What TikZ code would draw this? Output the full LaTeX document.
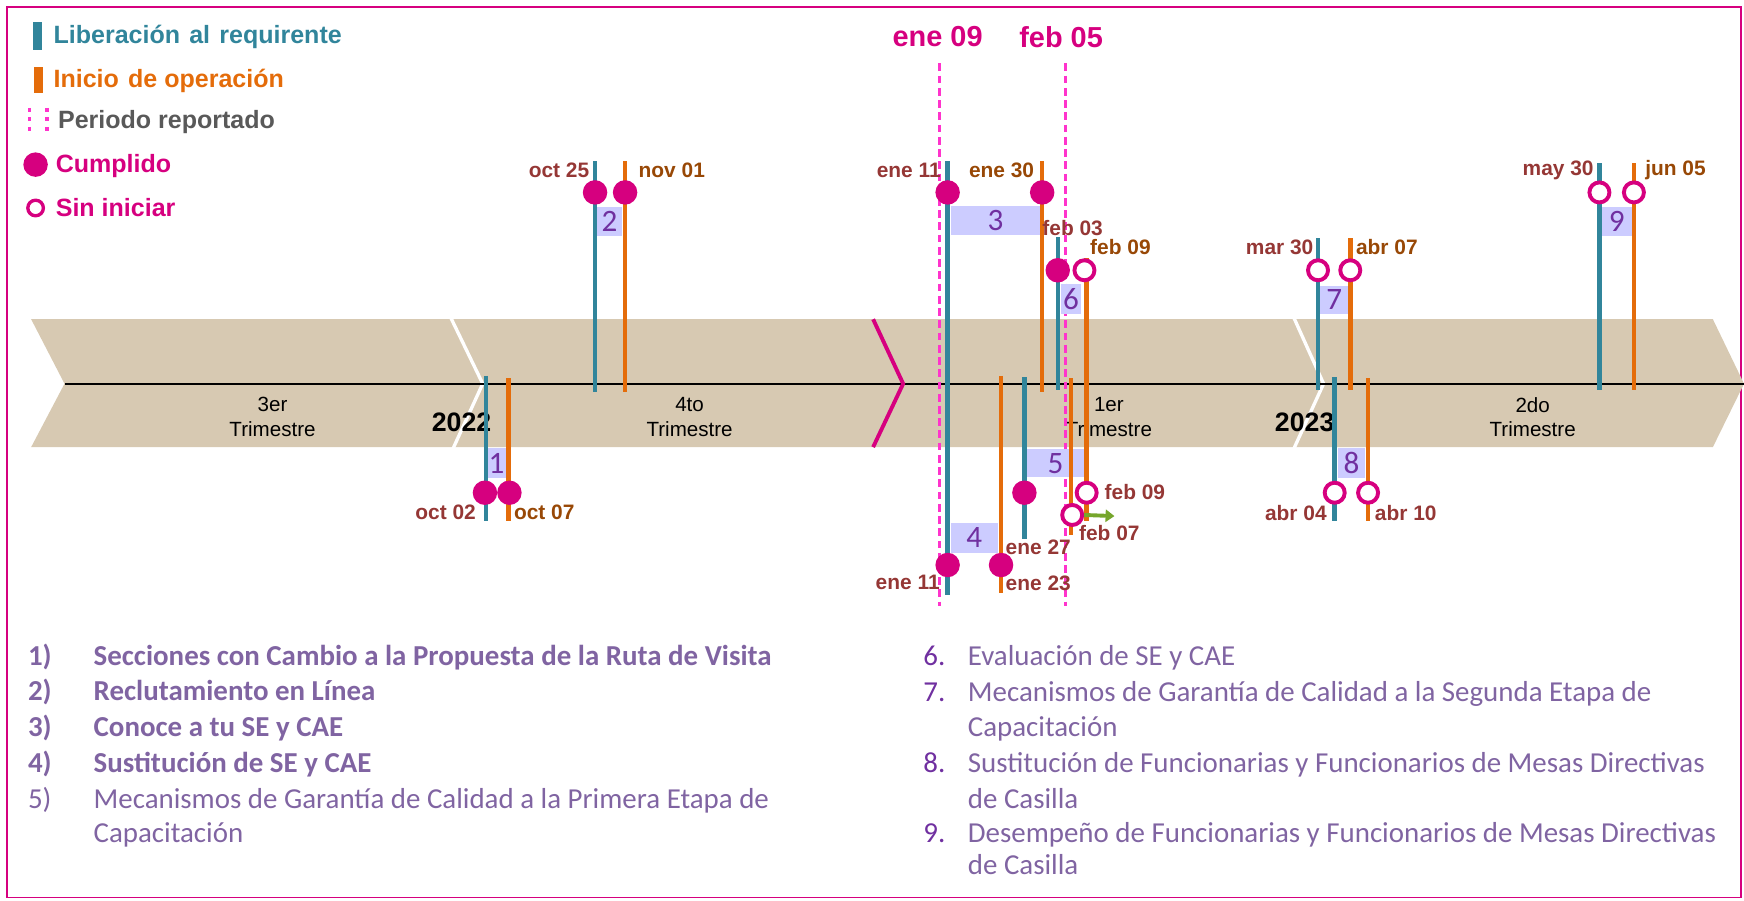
\documentclass[tikz,border=0pt]{standalone}
\usepackage{fontspec}
\setmainfont{Liberation Sans}
\newfontfamily\calfont{Carlito}
\usetikzlibrary{arrows.meta}
\definecolor{tealc}{RGB}{49,133,155}
\definecolor{orangec}{RGB}{228,108,10}
\definecolor{magc}{RGB}{214,0,127}
\definecolor{pinkd}{RGB}{255,51,204}
\definecolor{tanc}{RGB}{215,201,178}
\definecolor{lavc}{RGB}{204,204,255}
\definecolor{numc}{RGB}{112,48,160}
\definecolor{brownl}{RGB}{149,55,53}
\definecolor{browno}{RGB}{152,72,6}
\definecolor{listc}{RGB}{128,100,162}
\definecolor{grayc}{RGB}{89,89,89}
\definecolor{greenc}{RGB}{118,166,44}
\tikzset{
 tealln/.style={draw=tealc, line width=4pt},
 orangeln/.style={draw=orangec, line width=4pt},
 fc/.style={circle, fill=magc, minimum size=22pt, inner sep=0pt},
 oc/.style={circle, draw=magc, fill=white, line width=3.5pt, minimum size=18pt, inner sep=0pt},
 nb/.style={fill=lavc, inner sep=0pt, text=numc, font=\calfont\fontsize{28}{28}\selectfont},
 datel/.style={inner sep=0pt, text=brownl, font=\fontsize{18.8}{20}\selectfont\bfseries},
 dateo/.style={datel, text=browno},
 ql/.style={align=center, font=\fontsize{18.5}{22}\selectfont, inner sep=0pt},
 yl/.style={font=\fontsize{24}{26}\selectfont\bfseries, inner sep=0pt},
 li/.style={anchor=west, inner sep=0pt, text height=17pt, text depth=6pt, text=listc, font=\calfont\fontsize{26}{30}\selectfont},
 lnum/.style={li, text=numc},
 lg/.style={anchor=west, inner sep=0pt, font=\fontsize{22.5}{25}\selectfont\bfseries},
 toplab/.style={inner sep=0pt, text=magc, font=\fontsize{26}{28}\selectfont\bfseries},
 period/.style={draw=pinkd, line width=2.5pt, dash pattern=on 7pt off 4pt},
}
\begin{document}
\begin{tikzpicture}[x=1pt,y=-1pt]
\useasboundingbox (0,0) rectangle (1568,810);
\draw[magc, line width=1.5pt] (6,6) rectangle (1565,807);

% timeline band
\fill[tanc] (28,287) -- (1540,287) -- (1568,345) -- (1540,402) -- (28,402) -- (58,345) -- cycle;
\draw[white, line width=3pt] (405,285) -- (434,345) -- (407,404);
\draw[white, line width=3pt] (1163,285) -- (1190,345) -- (1163,404);
\coordinate (axL) at (58,345);
\coordinate (axR) at (1568,345);
\draw[black, line width=2pt] (axL) -- (axR);
\draw[magc, line width=3.5pt] (785,287) -- (812,345) -- (785,402);

\node[ql] (q3) at (245,375) {3er\\Trimestre};
\node[ql] (q4) at (620,375) {4to\\Trimestre};
\node[ql] (q1) at (997,375) {1er\\Trimestre};
\node[ql] (q2) at (1378,375) {2do\\Trimestre};
\node[yl] (y22) at (415,380) {2022};
\node[yl] (y23) at (1173,380) {2023};

% period lines
\coordinate (pa1) at (845,57); \coordinate (pa2) at (845,545);
\coordinate (pb1) at (958,57); \coordinate (pb2) at (958,545);
\draw[period] (pa1) -- (pa2);
\draw[period] (pb1) -- (pb2);
\node[toplab] (ene09) at (843,33) {ene 09};
\node[toplab] (feb05) at (954,33) {feb 05};

% boxes
\node[nb, minimum width=17pt, minimum height=27pt] (b1) at (446.5,416.5) {1};
\node[nb, minimum width=22pt, minimum height=26pt] (b2) at (548,199) {2};
\node[nb, minimum width=80pt, minimum height=26pt] (b3) at (895,198) {3};
\node[nb, minimum width=42pt, minimum height=27pt] (b4) at (876,483.5) {4};
\node[nb, minimum width=52pt, minimum height=25pt] (b5) at (949,416.5) {5};
\node[nb, minimum width=18pt, minimum height=27pt] (b6) at (963,268.5) {6};
\node[nb, minimum width=25pt, minimum height=25pt] (b7) at (1199.5,269.5) {7};
\node[nb, minimum width=24pt, minimum height=27pt] (b8) at (1215,416.5) {8};
\node[nb, minimum width=27pt, minimum height=26pt] (b9) at (1453.5,199) {9};

% vertical lines
\draw[tealln] (437,338) coordinate (t1a) -- (437,468) coordinate (t1b);
\draw[orangeln] (457,340) coordinate (o1a) -- (457,468) coordinate (o1b);
\draw[tealln] (535,145) coordinate (t2a) -- (535,352) coordinate (t2b);
\draw[orangeln] (562,145) coordinate (o2a) -- (562,352) coordinate (o2b);
\draw[tealln] (852,145) coordinate (t3a) -- (852,535) coordinate (t3b);
\draw[orangeln] (937,145) coordinate (o3a) -- (937,352) coordinate (o3b);
\draw[orangeln] (900,338) coordinate (o4a) -- (900,533) coordinate (o4b);
\draw[tealln] (921,339) coordinate (t5a) -- (921,485) coordinate (t5b);
\draw[orangeln] (963,340) coordinate (o5a) -- (963,481) coordinate (o5b);
\draw[orangeln] (977,232) coordinate (o6a) -- (977,468) coordinate (o6b);
\draw[tealln] (951,213) coordinate (t6a) -- (951,351) coordinate (t6b);
\draw[tealln] (1185,214) coordinate (t7a) -- (1185,351) coordinate (t7b);
\draw[orangeln] (1214,214) coordinate (o7a) -- (1214,351) coordinate (o7b);
\draw[tealln] (1200,339) coordinate (t8a) -- (1200,468) coordinate (t8b);
\draw[orangeln] (1230,340) coordinate (o8a) -- (1230,468) coordinate (o8b);
\draw[tealln] (1438,147) coordinate (t9a) -- (1438,351) coordinate (t9b);
\draw[orangeln] (1469,147) coordinate (o9a) -- (1469,351) coordinate (o9b);

% circles
\node[fc] (c1a) at (436,443) {};
\node[fc] (c1b) at (458,443) {};
\node[fc] (c2a) at (535,173) {};
\node[fc] (c2b) at (562,173) {};
\node[fc] (c3a) at (852,173) {};
\node[fc] (c3b) at (937,173) {};
\node[fc] (c4a) at (852,508) {};
\node[fc] (c4b) at (900,508) {};
\node[fc] (c5a) at (921,443) {};
\node[oc] (c5b) at (977,443) {};
\node[oc] (c5c) at (964,463) {};
\node[fc] (c6a) at (951,243) {};
\node[oc] (c6b) at (975,243) {};
\node[oc] (c7a) at (1185,243) {};
\node[oc] (c7b) at (1214,243) {};
\node[oc] (c8a) at (1200,443) {};
\node[oc] (c8b) at (1230,443) {};
\node[oc] (c9a) at (1438,173) {};
\node[oc] (c9b) at (1469,173) {};

\coordinate (garrow) at (1002,464);
\draw[greenc, line width=3.5pt, -{Triangle[length=8pt,width=11pt]}] (c5c.east) -- (garrow);

% date labels
\node[datel, anchor=east] (d1a) at (428,461) {oct 02};
\node[dateo, anchor=west] (d1b) at (462,461) {oct 07};
\node[datel, anchor=east] (d2a) at (530,153) {oct 25};
\node[dateo, anchor=west] (d2b) at (574,153) {nov 01};
\node[datel, anchor=east] (d3a) at (846,153) {ene 11};
\node[dateo, anchor=west] (d3b) at (871,153) {ene 30};
\node[datel, anchor=west] (d6a) at (937,205) {feb 03};
\node[dateo, anchor=west] (d6b) at (980,222) {feb 09};
\node[datel, anchor=east] (d7a) at (1181,222) {mar 30};
\node[dateo, anchor=west] (d7b) at (1219,222) {abr 07};
\node[datel, anchor=east] (d9a) at (1433,153) {may 30};
\node[dateo, anchor=west] (d9b) at (1479,153) {jun 05};
\node[datel, anchor=east] (d4a) at (845,524) {ene 11};
\node[datel, anchor=west] (d4b) at (904,524) {ene 23};
\node[datel, anchor=west] (d5a) at (904,492) {ene 27};
\node[datel, anchor=west] (d5b) at (993,442) {feb 09};
\node[datel, anchor=west] (d5c) at (970,479) {feb 07};
\node[datel, anchor=east] (d8a) at (1193,461) {abr 04};
\node[datel, anchor=west] (d8b) at (1236,461) {abr 10};

% legend
\fill[tealc] (30,20) rectangle (38,45);
\node[lg, text=tealc] (lg1) at (48,33) {Liberación\hspace{2pt} al\hspace{2pt} requirente};
\fill[orangec] (31,60) rectangle (39,84);
\node[lg, text=orangec] (lg2) at (48,73) {Inicio\hspace{2pt} de operación};
\draw[pinkd, line width=3.5pt, dash pattern=on 3.5pt off 5pt] (26.5,97) -- (26.5,121);
\draw[pinkd, line width=3.5pt, dash pattern=on 3.5pt off 5pt] (42.5,97) -- (42.5,121);
\node[lg, text=grayc] (lg3) at (52,110) {Periodo reportado};
\node[fc] (lgc1) at (32,148) {};
\node[lg, text=magc] (lg4) at (50,149) {Cumplido};
\node[oc, minimum size=14pt, line width=3pt] (lgc2) at (32,187) {};
\node[lg, text=magc] (lg5) at (50,187) {Sin iniciar};

% lists
\node[li] (n1) at (25,593) {\bfseries 1)};
\node[li] (l1) at (84,593) {\bfseries Secciones con Cambio a la Propuesta de la Ruta de Visita};
\node[li] (n2) at (25,624) {\bfseries 2)};
\node[li] (l2) at (84,624) {\bfseries Reclutamiento en Línea};
\node[li] (n3) at (25,657) {\bfseries 3)};
\node[li] (l3) at (84,657) {\bfseries Conoce a tu SE y CAE};
\node[li] (n4) at (25,689) {\bfseries 4)};
\node[li] (l4) at (84,689) {\bfseries Sustitución de SE y CAE};
\node[li] (n5) at (25,721) {5)};
\node[li] (l5) at (84,721) {Mecanismos de Garantía de Calidad a la Primera Etapa de};
\node[li] (l5b) at (84,752) {Capacitación};

\node[lnum] (n6) at (830,593) {6.};
\node[li] (l6) at (870,593) {Evaluación de SE y CAE};
\node[lnum] (n7) at (830,625) {7.};
\node[li] (l7) at (870,625) {Mecanismos de Garantía de Calidad a la Segunda Etapa de};
\node[li] (l7b) at (870,657) {Capacitación};
\node[lnum] (n8) at (830,689) {8.};
\node[li] (l8) at (870,689) {Sustitución de Funcionarias y Funcionarios de Mesas Directivas};
\node[li] (l8b) at (870,721) {de Casilla};
\node[lnum] (n9) at (830,752) {9.};
\node[li] (l9) at (870,752) {Desempeño de Funcionarias y Funcionarios de Mesas Directivas};
\node[li] (l9b) at (870,781) {de Casilla};
\end{tikzpicture}
\end{document}
